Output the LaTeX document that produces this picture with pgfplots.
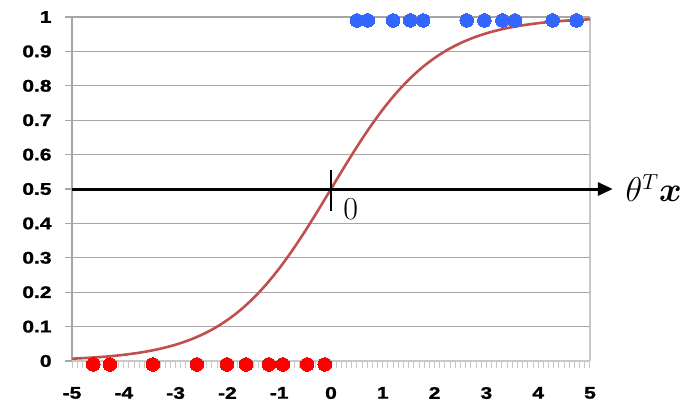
\documentclass[border=0pt]{standalone}
\usepackage{pgfplots}
\pgfplotsset{compat=1.18}
\usepackage{graphicx}
\usepackage{fontspec}
\usepackage{amsmath}
\usetikzlibrary{arrows.meta}
\newfontfamily\arialb{Liberation Sans Bold}[FakeBold=1.2]
\newcommand{\wl}[1]{\scalebox{1.25}[1]{#1}}
\definecolor{gridgray}{HTML}{A6A6A6}
\definecolor{lightgray}{HTML}{C8C8C8}
\definecolor{curvered}{HTML}{C0504D}
\definecolor{dotblue}{HTML}{3366FF}
\definecolor{dotred}{HTML}{FF0000}
\begin{document}
\begin{tikzpicture}
\useasboundingbox (-36bp,-20bp) rectangle (314bp,180.5bp);
\begin{axis}[
  at={(0,0)}, anchor=south west,
  scale only axis, width=259bp, height=172bp,
  xmin=-5, xmax=5, ymin=0, ymax=1,
  clip=false,
  axis line style={draw=none},
  xtick={-5,-4,-3,-2,-1,0,1,2,3,4,5},
  xticklabels={\wl{-5},\wl{-4},\wl{-3},\wl{-2},\wl{-1},\wl{0},\wl{1},\wl{2},\wl{3},\wl{4},\wl{5}},
  ytick={0,0.1,0.2,0.3,0.4,0.5,0.6,0.7,0.8,0.9,1},
  yticklabels={\wl{0},\wl{0.1},\wl{0.2},\wl{0.3},\wl{0.4},\wl{0.5},\wl{0.6},\wl{0.7},\wl{0.8},\wl{0.9},\wl{1}},
  minor x tick num=9,
  tick pos=left, tick align=outside,
  major tick length=3.5bp, minor tick length=3.5bp,
  x tick style={lightgray, line width=0.5bp},
  minor x tick style={lightgray, line width=0.5bp},
  y tick style={gridgray, line width=0.6bp},
  ymajorgrids, grid style={gridgray, line width=0.6bp},
  ticklabel style={font=\arialb\fontsize{8.4bp}{10bp}\selectfont},
  xticklabel style={yshift=-6bp},
  yticklabel style={xshift=-3.2bp},
]
\draw[gridgray, line width=0.6bp] (axis cs:-5,0) -- (axis cs:-5,1);
\draw[lightgray, line width=0.6bp] (axis cs:5,0) -- (axis cs:5,1);
\draw[lightgray, line width=0.6bp] (axis cs:-5,0) -- (axis cs:5,0);
\addplot[curvered, line width=1.3bp, smooth] coordinates {
(-5,0.0067) (-4.75,0.0086) (-4.5,0.0110) (-4.25,0.0140) (-4,0.0180)
(-3.75,0.0230) (-3.5,0.0293) (-3.25,0.0373) (-3,0.0474) (-2.75,0.0601)
(-2.5,0.0759) (-2.25,0.0953) (-2,0.1192) (-1.75,0.1480) (-1.5,0.1824)
(-1.25,0.2227) (-1,0.2689) (-0.75,0.3208) (-0.5,0.3775) (-0.25,0.4378)
(0,0.5) (0.25,0.5622) (0.5,0.6225) (0.75,0.6792) (1,0.7311)
(1.25,0.7773) (1.5,0.8176) (1.75,0.8520) (2,0.8808) (2.25,0.9047)
(2.5,0.9241) (2.75,0.9399) (3,0.9526) (3.25,0.9627) (3.5,0.9707)
(3.75,0.9770) (4,0.9820) (4.25,0.9860) (4.5,0.9890) (4.75,0.9914) (5,0.9933)
};
\addplot[dotred, only marks, mark=*, mark size=3.4bp, mark options={draw=dotred, fill=dotred, line width=0pt}] coordinates {
(-4.59,-0.01) (-4.27,-0.01) (-3.44,-0.01) (-2.59,-0.01) (-2.01,-0.01)
(-1.64,-0.01) (-1.20,-0.01) (-0.93,-0.01) (-0.46,-0.01) (-0.12,-0.01)
};
\addplot[dotblue, only marks, mark=*, mark size=3.4bp, mark options={draw=dotblue, fill=dotblue, line width=0pt}] coordinates {
(0.50,0.99) (0.71,0.99) (1.20,0.99) (1.53,0.99) (1.78,0.99) (2.62,0.99)
(2.96,0.99) (3.31,0.99) (3.55,0.99) (4.28,0.99) (4.74,0.99)
};
\draw[line width=1.5bp, -{Triangle[length=7.5bp,width=6.5bp]}] (axis cs:-5,0.5) -- (axis cs:5.44,0.5);
\draw[line width=1.2bp] (axis cs:0,0.436) -- (axis cs:0,0.555);
\node[anchor=base west, inner sep=0pt, font=\fontsize{16bp}{19bp}\selectfont] at (axis cs:0.23,0.41) {0};
\node[anchor=base west, inner sep=0pt, font=\fontsize{16bp}{19bp}\selectfont] at (axis cs:5.68,0.463) {$\theta^{T}\boldsymbol{x}$};
\end{axis}
\end{tikzpicture}
\end{document}
